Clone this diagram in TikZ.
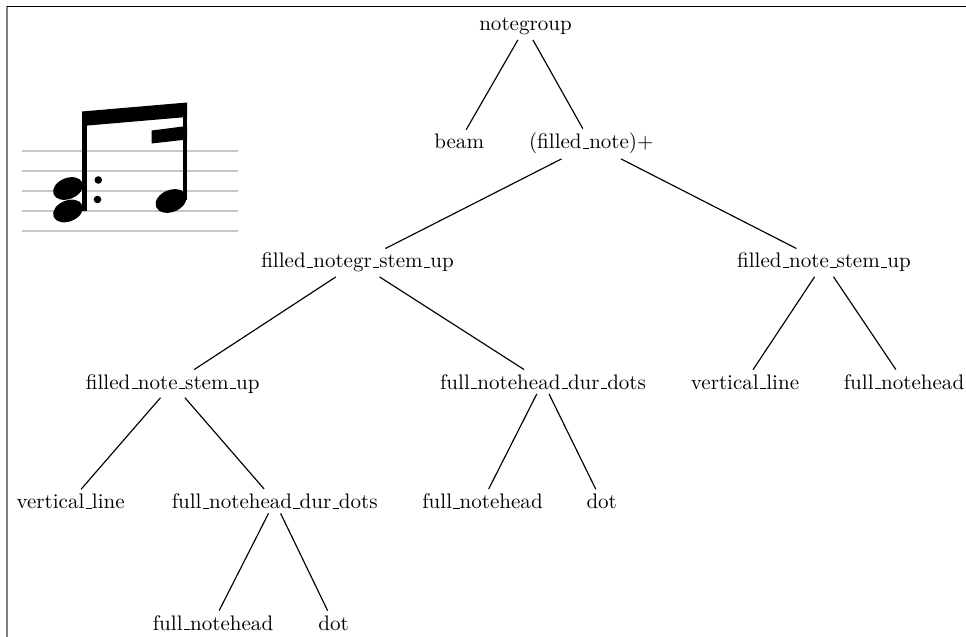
\documentclass[tikz,border=0pt]{standalone}
\newcommand\us{\leavevmode\kern.06em\vbox{\hrule width.3em}}
\begin{document}
\begin{tikzpicture}[x=0.4753pt,y=-0.4753pt,
  lbl/.style={anchor=base,inner sep=2pt},
  edge/.style={line width=0.55pt},
  staff/.style={black!22,line width=0.85pt},
  nhead/.style={rotate=22}]
\useasboundingbox (0,0) rectangle (966,637);
% frame
\draw[black!50,line width=1pt] (7,6) -- (7,637);
\draw[line width=0.5pt] (6.5,6.3) -- (966,6.3);
% music
\foreach \yy in {150.7,170.7,190.7,210.7,231} \draw[staff] (22,\yy) -- (238,\yy);
\fill[shift={(68,188.5)},nhead] (0,0) ellipse [x radius=15.5,y radius=10.5];
\fill[shift={(68,211)},nhead] (0,0) ellipse [x radius=15.5,y radius=10.5];
\fill[shift={(171,201)},nhead] (0,0) ellipse [x radius=16,y radius=11];
\fill (82,112) rectangle (86.5,211);
\fill (182.5,103) rectangle (187,200);
\fill (82,111.5) -- (187,102.5) -- (187,117) -- (82,126) -- cycle;
\fill (151.7,130.5) -- (187,126) -- (187,139.5) -- (151.7,143.5) -- cycle;
\fill (98.3,180) circle [radius=3.8];
\fill (97.5,199.5) circle [radius=3.8];
% tree nodes
\node[lbl] (ng) at (525.5,31) {notegroup};
\node[lbl] (beam) at (459.2,149) {beam};
\node[lbl] (fn) at (591.3,149) {(filled\us note)+};
\node[lbl] (fngsu) at (357.5,268) {filled\us notegr\us stem\us up};
\node[lbl] (fnsuR) at (824,268) {filled\us note\us stem\us up};
\node[lbl] (fnsuL) at (172.7,389) {filled\us note\us stem\us up};
\node[lbl] (fnhddM) at (543,389) {full\us notehead\us dur\us dots};
\node[lbl] (vlR) at (745,389) {vertical\us line};
\node[lbl] (fnhR) at (904,389) {full\us notehead};
\node[lbl] (vlL) at (70.6,508.5) {vertical\us line};
\node[lbl] (fnhddL) at (274.7,508.5) {full\us notehead\us dur\us dots};
\node[lbl] (fnhM) at (482.5,508.5) {full\us notehead};
\node[lbl] (dotM) at (601.7,508.5) {dot};
\node[lbl] (fnhB) at (213,630) {full\us notehead};
\node[lbl] (dotB) at (333.5,630) {dot};
% edges
\draw[edge] (ng) -- (beam);
\draw[edge] (ng) -- (fn);
\draw[edge] (fn) -- (fngsu);
\draw[edge] (fn) -- (fnsuR);
\draw[edge] (fngsu) -- (fnsuL);
\draw[edge] (fngsu) -- (fnhddM);
\draw[edge] (fnsuR) -- (vlR);
\draw[edge] (fnsuR) -- (fnhR);
\draw[edge] (fnsuL) -- (vlL);
\draw[edge] (fnsuL) -- (fnhddL);
\draw[edge] (fnhddM) -- (fnhM);
\draw[edge] (fnhddM) -- (dotM);
\draw[edge] (fnhddL) -- (fnhB);
\draw[edge] (fnhddL) -- (dotB);
\end{tikzpicture}
\end{document}
